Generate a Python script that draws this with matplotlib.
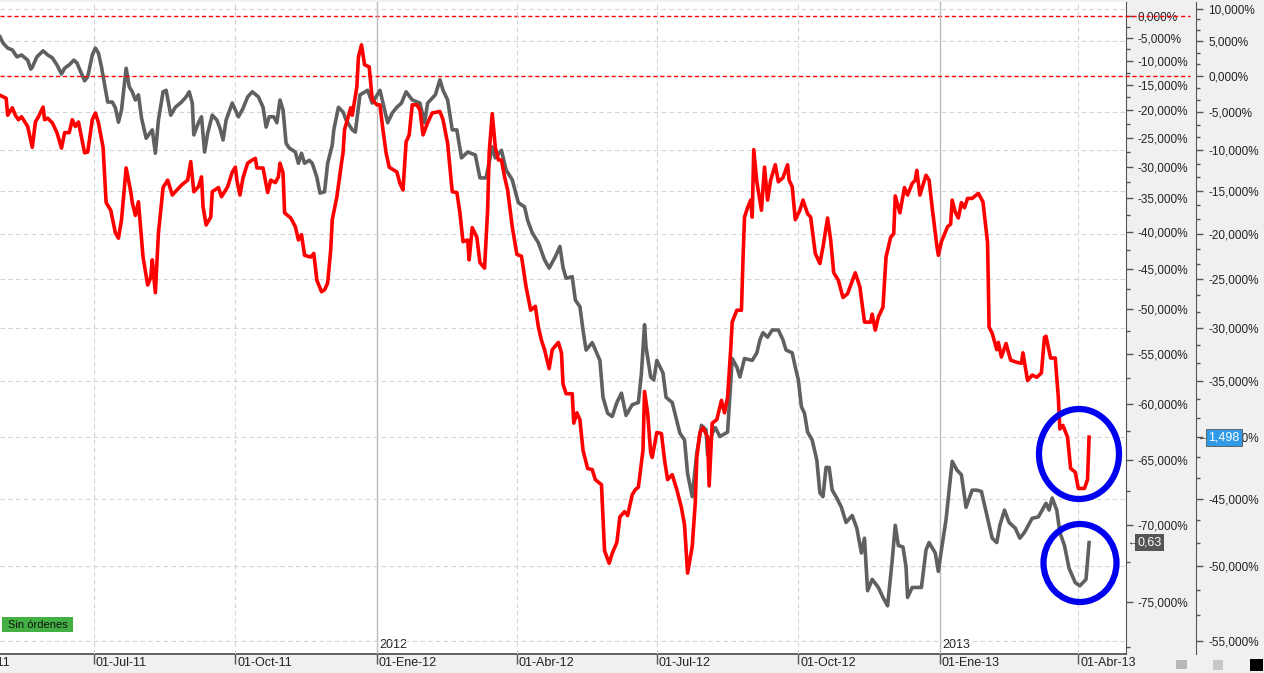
import numpy as np
import pandas as pd
import matplotlib
matplotlib.use("Agg")
import matplotlib.pyplot as plt
import matplotlib.dates as mdates
from matplotlib.patches import Rectangle, Ellipse
from matplotlib.ticker import FixedLocator, FixedFormatter, NullFormatter

plt.rcParams['font.family'] = ['Liberation Sans', 'DejaVu Sans']

# ---- datos (dias desde 01-May-2011, variacion en %) ----
inicio = pd.Timestamp('2011-05-01')

gris_dias = [0, 2, 5, 8, 11, 14, 18, 20, 21, 24, 28, 31, 34, 37, 40, 42, 45, 48, 50, 52, 55, 57, 60, 62, 64, 66,
             70, 73, 75, 77, 79, 82, 84, 86, 88, 90, 92, 95, 99, 101, 103, 106, 108, 111, 114, 118, 121, 123, 125,
             126, 129, 131, 133, 135, 138, 141, 143, 145, 147, 151, 155, 158, 161, 164, 168, 171, 173, 175, 178,
             180, 182, 184, 186, 188, 192, 194, 196, 198, 201, 203, 206, 208, 211, 213, 216, 217, 220, 223, 225,
             229, 231, 234, 239, 242, 247, 249, 252, 255, 258, 261, 264, 268, 273, 276, 278, 283, 286, 288, 291,
             294, 297, 300, 304, 309, 312, 316, 320, 322, 326, 329, 333, 337, 341, 343, 346, 350, 354, 357, 361,
             364, 366, 368, 372, 374, 377, 379, 381, 385, 390, 392, 395, 398, 401, 404, 407, 411, 415, 417, 419,
             420, 423, 425, 427, 431, 433, 437, 442, 445, 447, 450, 453, 456, 459, 460, 463, 465, 468, 473, 476,
             479, 481, 484, 489, 492, 494, 496, 499, 502, 506, 509, 511, 515, 517, 519, 521, 523, 525, 528, 531,
             533, 535, 537, 539, 541, 544, 547, 550, 554, 557, 560, 562, 564, 567, 571, 574, 577, 580, 582, 584,
             587, 589, 590, 593, 597, 599, 602, 604, 608, 610, 612, 615, 619, 622, 625, 628, 632, 635, 638, 641,
             645, 648, 650, 653, 656, 660, 663, 666, 671, 675, 678, 680, 682, 684, 687, 689, 692, 695, 699, 702,
             706, 708]
gris_pct = [-4.8, -6.2, -7.3, -7.7, -9.2, -8.8, -9.9, -11.8, -11.4, -9.2, -7.9, -8.8, -9.4, -10.9, -12.8, -11.6,
            -10.9, -9.9, -10.5, -12.0, -14.2, -13.4, -8.8, -7.3, -8.4, -11.4, -18.4, -18.4, -19.5, -22.2, -19.9,
            -11.6, -15.4, -16.4, -18.0, -17.0, -21.4, -25.1, -23.6, -27.7, -21.8, -16.4, -16.1, -20.9, -19.4,
            -18.4, -17.4, -16.4, -18.6, -24.5, -22.3, -21.2, -27.5, -24.2, -20.9, -21.8, -23.3, -25.4, -21.8,
            -18.6, -21.2, -19.6, -17.4, -16.4, -17.4, -19.4, -23.1, -21.2, -21.2, -22.3, -18.0, -19.9, -26.0,
            -26.8, -27.5, -29.4, -27.7, -29.4, -28.9, -29.4, -31.7, -34.2, -34.0, -29.4, -26.3, -23.6, -19.4,
            -20.3, -21.8, -23.6, -24.0, -17.0, -16.1, -18.6, -16.1, -18.6, -22.3, -20.5, -19.4, -18.6, -16.4,
            -18.0, -18.6, -22.3, -18.6, -17.0, -14.0, -16.1, -18.0, -23.6, -23.6, -28.5, -27.5, -28.0, -31.8,
            -31.8, -26.6, -28.5, -27.2, -30.5, -32.1, -35.7, -36.3, -38.3, -40.1, -41.5, -43.8, -44.9, -43.4,
            -42.0, -44.8, -46.2, -46.0, -48.9, -49.7, -52.4, -54.6, -53.8, -55.7, -59.4, -60.9, -61.2, -59.9,
            -59.0, -61.1, -60.1, -59.9, -57.0, -51.8, -54.3, -57.4, -57.7, -55.7, -57.0, -59.4, -59.9, -62.7,
            -63.3, -66.1, -67.9, -64.4, -62.0, -62.4, -64.6, -62.7, -62.2, -63.0, -62.6, -55.5, -56.4, -57.4,
            -55.5, -55.7, -54.9, -53.5, -52.7, -53.2, -52.4, -52.4, -53.5, -54.6, -54.9, -56.4, -57.7, -60.3,
            -60.9, -62.6, -63.3, -65.0, -67.6, -67.9, -65.6, -65.6, -67.4, -68.0, -68.7, -69.8, -69.3, -70.2,
            -71.9, -70.9, -74.3, -73.6, -74.1, -74.7, -75.2, -72.4, -70.0, -71.4, -71.5, -72.8, -74.7, -74.1,
            -74.1, -74.1, -71.7, -71.2, -71.9, -73.1, -71.7, -69.6, -65.1, -65.8, -66.2, -68.7, -67.4, -67.4,
            -67.5, -69.0, -70.9, -71.2, -70.0, -68.9, -69.8, -70.2, -70.9, -70.5, -69.5, -69.4, -68.8, -68.4,
            -68.9, -68.0, -68.9, -70.5, -71.4, -72.9, -73.8, -74.0, -73.6, -71.2]

rojo_dias = [0, 2, 4, 5, 8, 10, 12, 14, 18, 21, 23, 25, 28, 29, 31, 34, 37, 40, 42, 45, 47, 49, 51, 53, 55, 57,
             60, 62, 64, 67, 69, 72, 75, 77, 79, 82, 85, 86, 88, 90, 93, 96, 98, 99, 101, 103, 106, 109, 112, 115,
             118, 122, 124, 126, 129, 131, 132, 134, 137, 138, 142, 144, 148, 151, 153, 154, 156, 158, 161, 164,
             166, 167, 171, 174, 176, 179, 181, 182, 184, 185, 189, 192, 194, 196, 198, 202, 204, 206, 209, 211,
             213, 215, 216, 219, 222, 223, 224, 228, 229, 232, 233, 235, 237, 240, 242, 245, 247, 249, 251, 253,
             258, 260, 262, 264, 266, 268, 271, 273, 275, 278, 281, 286, 288, 291, 294, 297, 299, 301, 304, 305,
             307, 310, 312, 315, 317, 318, 320, 322, 324, 326, 328, 330, 333, 336, 339, 342, 345, 348, 350, 352,
             354, 357, 359, 363, 365, 366, 368, 372, 373, 375, 377, 379, 382, 385, 387, 391, 393, 396, 398, 401,
             403, 406, 408, 411, 413, 415, 418, 419, 421, 423, 424, 427, 430, 432, 434, 437, 440, 443, 445, 447,
             450, 452, 453, 455, 457, 460, 461, 463, 466, 469, 471, 473, 475, 476, 479, 482, 483, 484, 486, 488,
             489, 490, 492, 495, 497, 499, 501, 504, 506, 509, 512, 513, 515, 517, 520, 522, 525, 527, 530, 533,
             535, 538, 540, 542, 545, 548, 551, 556, 559, 562, 566, 567, 569, 571, 574, 576, 579, 581, 582, 585,
             588, 590, 593, 595, 596, 598, 600, 602, 604, 606, 609, 610, 612, 616, 618, 619, 621, 623, 625, 627,
             629, 632, 636, 639, 642, 643, 645, 648, 649, 651, 654, 657, 661, 664, 665, 668, 671, 674, 677, 679,
             680, 683, 686, 688, 689, 691, 694, 696, 699, 701, 705, 707, 708]
rojo_pct = [-2.7, -2.9, -3.1, -5.4, -4.4, -5.4, -6.0, -5.6, -6.9, -9.6, -6.3, -5.6, -4.3, -6.0, -5.8, -6.4, -7.7,
            -9.7, -7.7, -7.7, -6.0, -6.9, -6.3, -8.3, -10.3, -10.2, -6.0, -5.1, -6.4, -9.6, -16.4, -17.3, -19.9,
            -20.5, -18.4, -12.2, -15.1, -16.4, -17.9, -16.3, -22.6, -25.6, -24.8, -22.9, -26.4, -19.9, -14.6,
            -13.7, -15.5, -14.9, -14.3, -13.7, -11.4, -15.1, -14.5, -13.3, -16.9, -19.0, -18.1, -15.1, -14.6,
            -15.7, -14.5, -12.7, -12.1, -13.7, -15.5, -13.4, -11.6, -11.2, -11.0, -12.2, -12.2, -15.2, -13.7,
            -14.0, -13.3, -11.6, -12.8, -17.6, -18.2, -19.2, -20.7, -20.1, -22.4, -22.6, -22.2, -25.1, -26.3,
            -26.1, -25.4, -21.8, -18.4, -15.7, -11.6, -10.3, -7.3, -4.4, -5.4, -1.5, 2.7, 4.5, 1.6, 1.3, -3.3,
            -4.0, -4.0, -7.4, -10.3, -12.1, -12.7, -14.1, -14.9, -8.9, -8.0, -4.0, -4.0, -4.7, -8.0, -6.4, -5.1,
            -4.9, -6.0, -9.1, -15.1, -15.2, -17.6, -20.9, -20.7, -22.9, -19.3, -20.4, -23.2, -23.8, -17.3, -10.3,
            -5.2, -9.6, -11.2, -11.2, -13.3, -14.9, -19.2, -22.3, -22.5, -25.8, -28.2, -27.8, -29.9, -31.2,
            -32.1, -33.9, -32.1, -31.4, -32.4, -35.3, -36.2, -36.2, -38.8, -37.9, -38.5, -41.1, -42.6, -42.7,
            -43.5, -43.9, -48.9, -49.8, -49.1, -48.3, -46.4, -46.0, -46.3, -44.7, -44.3, -44.1, -41.1, -36.0,
            -37.9, -41.3, -41.7, -39.6, -39.7, -41.9, -43.5, -43.1, -44.3, -45.7, -47.0, -50.5, -48.6, -45.3,
            -41.7, -39.6, -39.2, -40.0, -44.0, -38.8, -38.5, -36.8, -37.9, -36.5, -32.1, -29.4, -28.2, -28.2,
            -22.9, -18.1, -17.0, -16.1, -18.1, -9.9, -13.9, -17.3, -12.1, -16.1, -13.7, -11.8, -13.9, -13.4,
            -11.8, -13.7, -14.5, -18.4, -17.3, -16.1, -17.7, -18.1, -22.2, -23.3, -21.5, -18.2, -20.7, -24.3,
            -25.1, -26.9, -26.5, -24.3, -25.8, -29.4, -29.4, -28.6, -30.2, -28.9, -27.9, -22.6, -20.4, -20.0,
            -15.6, -17.6, -14.6, -15.5, -14.1, -13.7, -12.5, -15.5, -14.3, -13.1, -13.7, -17.0, -21.3, -22.4,
            -20.9, -19.2, -18.9, -16.1, -17.5, -18.2, -16.4, -17.0, -15.9, -15.9, -15.3, -16.3, -21.0, -29.9,
            -30.5, -32.1, -31.4, -32.8, -31.5, -33.1, -33.3, -33.4, -32.4, -35.0, -34.5, -34.7, -34.3, -30.9,
            -30.8, -32.9, -32.9, -36.5, -39.3, -39.0, -40.0, -42.6, -42.9, -44.2, -44.2, -43.5, -40.0]

ejes_gris = [0, -5, -10, -15, -20, -25, -30, -35, -40, -45, -50, -55, -60, -65, -70, -75]
ejes_rojo = [10, 5, 0, -5, -10, -15, -20, -25, -30, -35, -40, -45, -50, -55]
fechas_ticks = ['2011-04-01', '2011-07-01', '2011-10-01', '2012-01-01', '2012-04-01', '2012-07-01',
                '2012-10-01', '2013-01-01', '2013-04-01']
etiquetas_fechas = ['01-Abr-11', '01-Jul-11', '01-Oct-11', '01-Ene-12', '01-Abr-12', '01-Jul-12',
                    '01-Oct-12', '01-Ene-13', '01-Abr-13']
anios = ['2012', '2013']
ultimo_rojo = '1,498'
ultimo_gris = '0,63'

FS = 8.5


def fmt_pct(p):
    return f"{p:.3f}".replace('.', ',') + '%'


W, H = 1264, 673
fig = plt.figure(figsize=(W / 100, H / 100), dpi=100, facecolor='#f0f0f0')

ax_g = fig.add_axes([0, (H - 654) / H, 1126 / W, 652 / H])
ax_g.set_facecolor('white')
ax_r = ax_g.twinx()

x_g = mdates.date2num(inicio + pd.to_timedelta(gris_dias, unit='D'))
x_r = mdates.date2num(inicio + pd.to_timedelta(rojo_dias, unit='D'))
y_g = 1 + np.array(gris_pct) / 100
y_r = 1 + np.array(rojo_pct) / 100
xlim = (mdates.date2num(inicio), mdates.date2num(inicio + pd.Timedelta(days=732)))

for ax in (ax_g, ax_r):
    ax.set_yscale('log')

# eje interior (gris)
ax_g.yaxis.tick_right()
ax_g.yaxis.set_major_locator(FixedLocator([1 + p / 100 for p in ejes_gris]))
ax_g.yaxis.set_major_formatter(FixedFormatter([fmt_pct(p) for p in ejes_gris]))
menores_g = [1 + p / 100 for p in np.arange(-2.5, -80, -2.5) if p % 5 != 0]
ax_g.yaxis.set_minor_locator(FixedLocator(menores_g))
ax_g.yaxis.set_minor_formatter(NullFormatter())
ax_g.tick_params(axis='y', which='major', direction='out', length=5, width=1, color='#555555',
                 pad=3, labelsize=FS, labelcolor='#222222')
ax_g.tick_params(axis='y', which='minor', direction='out', length=3, width=1, color='#555555')

# eje exterior (rojo), 70 px a la derecha del interior
ax_r.spines['right'].set_position(('outward', 70 * 72 / 100))
ax_r.yaxis.set_major_locator(FixedLocator([1 + p / 100 for p in ejes_rojo]))
ax_r.yaxis.set_major_formatter(FixedFormatter([fmt_pct(p) for p in ejes_rojo]))
menores_r = [1 + p / 100 for p in np.arange(10, -57, -5 / 3)]
ax_r.yaxis.set_minor_locator(FixedLocator(menores_r))
ax_r.yaxis.set_minor_formatter(NullFormatter())
ax_r.tick_params(axis='y', which='major', direction='out', length=5, width=1, color='#555555',
                 pad=4, labelsize=FS, labelcolor='#222222')
ax_r.tick_params(axis='y', which='minor', direction='out', length=3, width=1, color='#555555')

for s in ('top', 'left'):
    ax_g.spines[s].set_visible(False)
for s in ('top', 'left', 'bottom'):
    ax_r.spines[s].set_visible(False)
ax_g.spines['right'].set_color('#555555')
ax_g.spines['bottom'].set_color('#555555')
ax_g.spines['bottom'].set_linewidth(1.3)
ax_r.spines['right'].set_color('#555555')

# series
ax_r.plot(x_g, y_g, color='#606060', lw=2.6, transform=ax_g.transData, zorder=2,
          solid_joinstyle='round')
ax_r.plot(x_r, y_r, color='#ff0000', lw=2.6, zorder=3, solid_joinstyle='round')

# eje de fechas
pos_ticks = mdates.date2num(pd.to_datetime(fechas_ticks))
ax_g.set_xticks(pos_ticks)
ax_g.set_xticklabels([])
ax_g.tick_params(axis='x', direction='out', length=7, width=1, color='#555555')
for pos, lab in zip(pos_ticks, etiquetas_fechas):
    ax_g.annotate(lab, xy=(pos, 0), xycoords=('data', 'axes fraction'), xytext=(2, -9),
                  textcoords='offset pixels', ha='left', va='center', fontsize=FS + 0.5,
                  color='#222222', annotation_clip=False)
for anio in anios:
    pos = mdates.date2num(pd.Timestamp(anio + '-01-01'))
    ax_g.annotate(anio, xy=(pos, 0), xycoords=('data', 'axes fraction'), xytext=(2, 9),
                  textcoords='offset pixels', ha='left', va='center', fontsize=FS + 0.5,
                  color='#222222', annotation_clip=False)

# rejilla
for pos, lab in zip(pos_ticks, fechas_ticks):
    if lab.endswith('01-01'):
        ax_r.axvline(pos, color='#bcbcbc', lw=1.0, zorder=1)
    else:
        ax_r.axvline(pos, color='#d4d4d4', lw=0.8, ls=(0, (4, 3)), zorder=1)
for p in ejes_rojo:
    if p != 0:
        ax_r.axhline(1 + p / 100, color='#d4d4d4', lw=0.8, ls=(0, (4, 3)), zorder=1)

# lineas de 0 %
ax_r.axhline(1.0, xmin=0, xmax=1190 / 1126, color='#ff0000', lw=1.0, ls=(0, (3, 2)),
             zorder=4, clip_on=False)
ax_g.axhline(1.0, xmin=0, xmax=1190 / 1126, color='#ff0000', lw=1.0, ls=(0, (3, 2)),
             zorder=4, clip_on=False)
for ax in (ax_g, ax_r):
    ax.set_xlim(*xlim)
ax_g.set_ylim(0.2213, 1.0337)
ax_r.set_ylim(0.4415, 1.1103)

# etiquetas de ultimo valor
ax_r.annotate(ultimo_rojo, xy=(1, y_r[-1]), xycoords=('axes fraction', 'data'), xytext=(82, 0),
              textcoords='offset pixels', ha='left', va='center', fontsize=FS + 0.5, color='white',
              bbox=dict(boxstyle='square,pad=0.2', fc='#2f9be8', ec='#555555', lw=0.6),
              annotation_clip=False, zorder=10)
ax_r.annotate('←', xy=(1, y_r[-1]), xycoords=('axes fraction', 'data'), xytext=(71, 0),
              textcoords='offset pixels', ha='left', va='center', fontsize=7, color='#333333',
              annotation_clip=False, zorder=10)
ax_g.annotate(ultimo_gris, xy=(1, y_g[-1]), xycoords=('axes fraction', 'data'), xytext=(11, 0),
              textcoords='offset pixels', ha='left', va='center', fontsize=FS + 0.5, color='white',
              bbox=dict(boxstyle='square,pad=0.2', fc='#555555', ec='none'),
              annotation_clip=False, zorder=10)
ax_g.annotate('←', xy=(1, y_g[-1]), xycoords=('axes fraction', 'data'), xytext=(1, 0),
              textcoords='offset pixels', ha='left', va='center', fontsize=7, color='#333333',
              annotation_clip=False, zorder=10)


def fx(x):
    return x / W


def fy(y):
    return 1 - y / H


# circulos azules
for cx, cy, w, h in [(1079, 454, 80, 90), (1080, 563, 73, 78)]:
    fig.add_artist(Ellipse((fx(cx), fy(cy)), w / W, h / H, transform=fig.transFigure,
                           fill=False, ec='#0000f0', lw=4.5, zorder=20))

# cartel "Sin ordenes"
fig.add_artist(Rectangle((fx(2), fy(632)), 71 / W, 15 / H, transform=fig.transFigure,
                         fc='#43b043', ec='none', zorder=20))
fig.text(fx(37.5), fy(624.5), 'Sin órdenes', ha='center', va='center', fontsize=8,
         color='#111111', zorder=21)

# iconos de la barra inferior
fig.add_artist(Rectangle((fx(1250), fy(671)), 13 / W, 12 / H, transform=fig.transFigure,
                         fc='black', ec='none'))
fig.add_artist(Rectangle((fx(1213), fy(670)), 10 / W, 10 / H, transform=fig.transFigure,
                         fc='#c8c8c8', ec='none'))
fig.add_artist(Rectangle((fx(1176), fy(669)), 11 / W, 9 / H, transform=fig.transFigure,
                         fc='#b8b8b8', ec='none'))

fig.savefig('out.png', dpi=100, facecolor=fig.get_facecolor())
